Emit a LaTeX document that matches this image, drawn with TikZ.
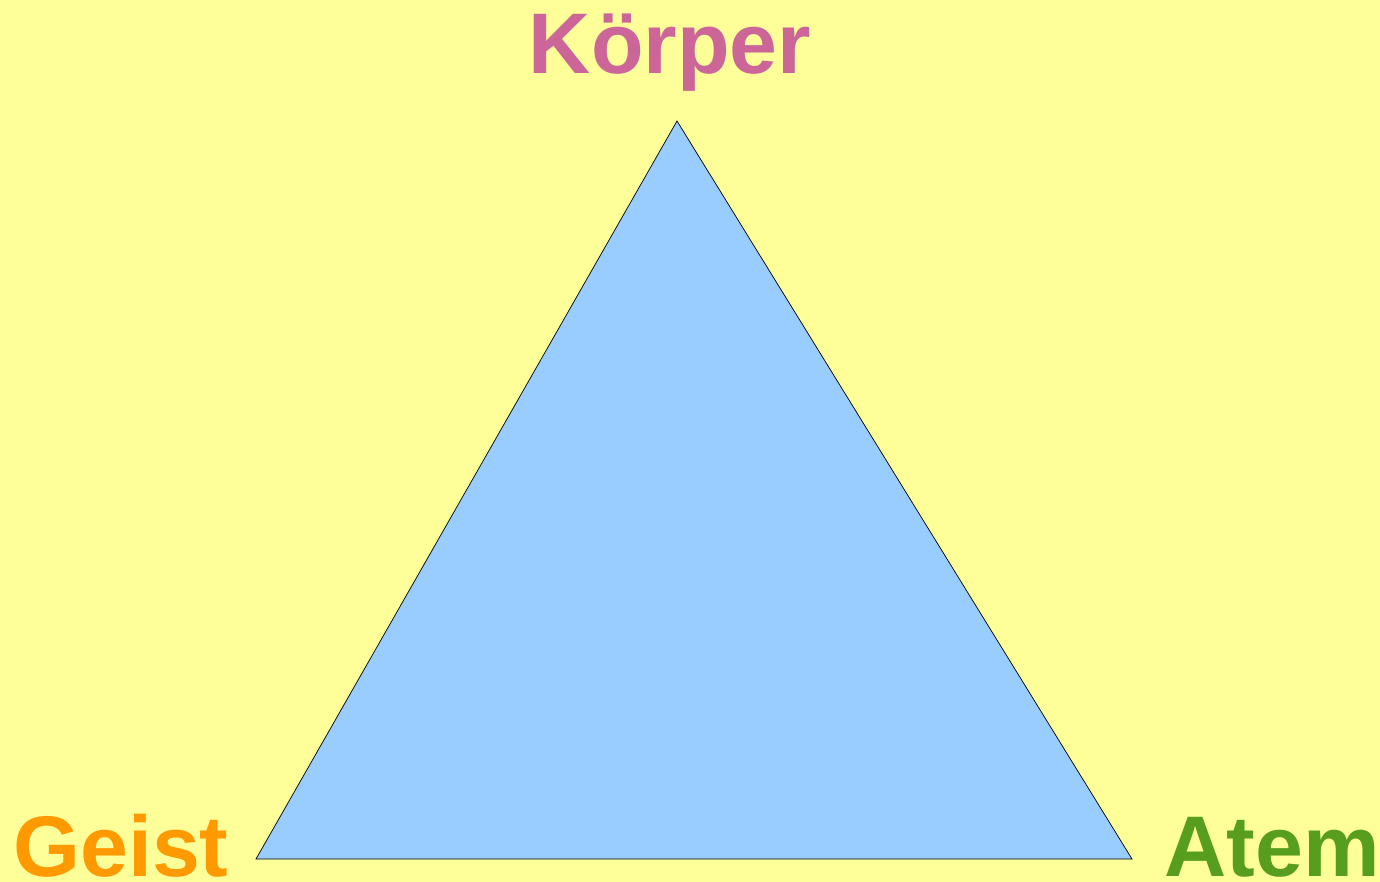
\documentclass[tikz,border=0pt]{standalone}
\usepackage{fontspec}
\setmainfont{Liberation Sans}
\usepackage{tikz}
\usepackage{xcolor}
\usetikzlibrary{positioning}
\definecolor{bgyellow}{RGB}{255,255,153}
\definecolor{triblue}{RGB}{153,204,255}
\definecolor{mypink}{RGB}{204,102,153}
\definecolor{myorange}{RGB}{255,153,0}
\definecolor{mygreen}{RGB}{88,158,30}
\tikzset{
    corner/.style={
        anchor=base,
        inner sep=0pt,
        font=\fontsize{49}{55}\selectfont\bfseries
    },
    tri/.style={
        draw=black,
        fill=triblue,
        line width=0.4pt,
        line join=miter
    }
}

\begin{document}
\begin{tikzpicture}[x=0.02cm,y=-0.02cm]
\fill[bgyellow] (0,0) rectangle (1380,882);
\useasboundingbox (0,0) rectangle (1380,882);

\coordinate (top) at (677,121);
\coordinate (left) at (256,859);
\coordinate (right) at (1132,859);
\draw[tri] (top) -- (right) -- (left) -- cycle;

\node[corner,text=mypink]   (koerper) at (670,74)  {Körper};
\node[corner,text=myorange] (geist)   at (121,876) {Geist};
\node[corner,text=mygreen]  (atem)    at (1272,876) {Atem};
\end{tikzpicture}
\end{document}
